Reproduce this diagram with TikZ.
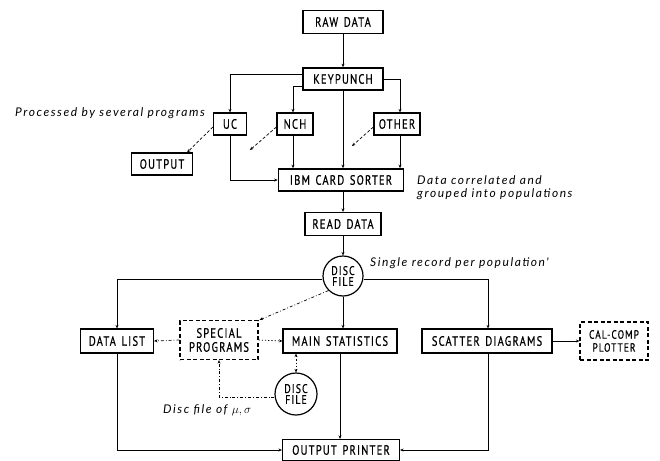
\documentclass[tikz,border=0pt]{standalone}
\usepackage{fontspec}
\setmainfont{PT Sans}
\newfontfamily\boxfont{PT Sans}[LetterSpace=9,WordSpace=1.4,FakeStretch=0.78,FakeBold=0.6]
\newfontfamily\notefont{Lato}[LetterSpace=13]
\usetikzlibrary{arrows.meta}
\begin{document}
\begin{tikzpicture}[x=1pt,y=-1pt,
  box/.style={draw,line width=1.2pt,inner sep=0pt,font=\boxfont\fontsize{13.5}{13}\selectfont,align=center},
  thickbox/.style={box,line width=1.7pt},
  dbox/.style={box,dashed,dash pattern=on 4pt off 2.5pt},
  disc/.style={draw,line width=1.2pt,circle,inner sep=0pt,minimum size=40pt,font=\boxfont\fontsize{12.5}{12}\selectfont,align=center},
  conn/.style={line width=0.7pt,-{Stealth[length=3.5pt,width=3pt]}},
  dconn/.style={conn,dashed,dash pattern=on 3pt off 2pt},
  ddconn/.style={conn,dash pattern=on 3pt off 2pt on 0.8pt off 2pt},
  dotconn/.style={conn,dash pattern=on 1.2pt off 2pt},
  note/.style={font=\notefont\itshape\fontsize{12}{13}\selectfont,anchor=west,inner sep=0pt,align=left}]
\useasboundingbox (0,0) rectangle (660,460);

\node[box,minimum width=80pt,minimum height=23pt] (raw) at (343,22) {RAW DATA};
\node[thickbox,minimum width=80pt,minimum height=22pt] (key) at (343,79) {KEYPUNCH};
\node[box,minimum width=33pt,minimum height=22pt] (uc) at (230,124) {UC};
\node[box,minimum width=36pt,minimum height=22pt] (nch) at (295,124) {NCH};
\node[box,minimum width=46pt,minimum height=22pt] (other) at (397,124) {OTHER};
\node[box,minimum width=61pt,minimum height=22pt] (output) at (162,164) {OUTPUT};
\node[thickbox,minimum width=125pt,minimum height=22pt] (ibm) at (341,180) {IBM CARD SORTER};
\node[box,minimum width=76pt,minimum height=23pt] (read) at (343,224) {READ DATA};
\node[disc] (disc1) at (343,276) {DISC\\[-1pt]FILE};
\node[box,minimum width=73pt,minimum height=24pt] (dlist) at (117,341) {DATA LIST};
\node[dbox,minimum width=78pt,minimum height=39pt] (special) at (219,340) {SPECIAL\\[1pt]PROGRAMS};
\node[box,minimum width=114pt,minimum height=24pt] (main) at (340,341) {MAIN STATISTICS};
\node[box,minimum width=130pt,minimum height=24pt] (scatter) at (487,341) {SCATTER DIAGRAMS};
\node[dbox,minimum width=68pt,minimum height=38pt,font=\boxfont\fontsize{12}{12}\selectfont] (cal) at (614,341) {CAL-COMP\\[1pt]PLOTTER};
\node[disc,minimum size=42pt] (disc2) at (296,394) {DISC\\[-1pt]FILE};
\node[box,minimum width=117pt,minimum height=21pt] (printer) at (341,450) {OUTPUT PRINTER};

\node[note] (n1) at (15,113) {Processed by several programs};
\node[note] (n2) at (417,188) {Data correlated and\\grouped into populations};
\node[note] (n3) at (370,263) {Single record per population'};
\node[note] (n4) at (163,410) {Disc file of $\mu,\sigma$};

\coordinate (nchfree) at (250,150);
\coordinate (otherfree) at (352,146);

\draw[conn] (raw.south) -- (key.north);
\draw[conn] ([yshift=5pt]key.west) -| (uc.north);
\draw[conn] ([yshift=-7pt]key.west) -| ([xshift=-2pt]nch.north);
\draw[conn] (key.east) -| ([xshift=3pt]other.north);
\draw[conn] (key.south) -- (key.south |- ibm.north);
\draw[conn] (uc.south) |- (ibm.west);
\draw[conn] ([xshift=-2pt]nch.south) -- ([xshift=-2pt]nch.south |- ibm.north);
\draw[conn] ([xshift=3pt]other.south) -- ([xshift=3pt]other.south |- ibm.north);
\draw[dconn] ([yshift=-3pt]uc.west) -- ([xshift=-6pt]output.north east);
\draw[dconn] ([yshift=-3pt]nch.west) -- (nchfree);
\draw[dconn] ([yshift=-3pt]other.west) -- (otherfree);

\draw[conn] (ibm.south -| read.north) -- (read.north);
\draw[conn] (read.south) -- (disc1.north);
\draw[conn] (disc1.south) -- (disc1.south |- main.north);
\draw[conn] ([yshift=-3pt]disc1.west) -| (dlist.north);
\draw[conn] ([yshift=-3pt]disc1.east) -| ([xshift=1pt]scatter.north);
\draw[ddconn] (disc1.south west) -- ([xshift=1pt]special.north east);
\draw[ddconn] (special.west) -- (dlist.east);
\draw[dotconn] (special.east) -- (main.west);
\draw[dotconn,{Stealth[length=3.5pt,width=3pt]}-{Stealth[length=3.5pt,width=3pt]}] (disc2.north) -- (disc2.north |- main.south);
\draw[ddconn] ([yshift=-3pt]disc2.west) -| (special.south);
\draw[conn] (dlist.south) |- (printer.west);
\draw[conn] (main.south) -- (main.south |- printer.north);
\draw[conn] ([xshift=1pt]scatter.south) |- (printer.east);
\draw[conn] (scatter.east) -- (cal.west);
\end{tikzpicture}
\end{document}
